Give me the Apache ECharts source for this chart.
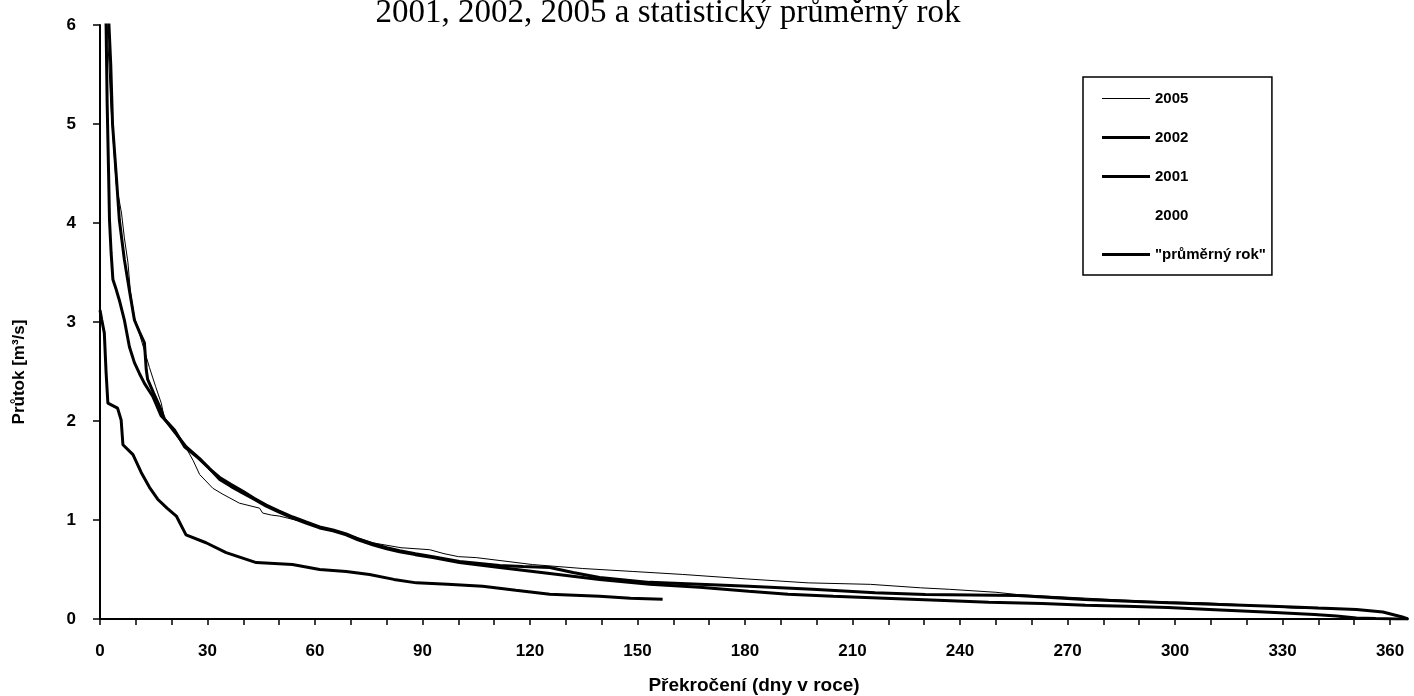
<!DOCTYPE html>
<html>
<head>
<meta charset="utf-8">
<script src="https://cdn.jsdelivr.net/npm/echarts@6/dist/echarts.min.js"></script>
<style>
html,body{margin:0;padding:0;background:#fff;}
#chart{width:1414px;height:696px;}
</style>
</head>
<body>
<div id="chart"></div>
<script>
// ---- data (days of exceedance, discharge m3/s) ----
const titleText = '2001, 2002, 2005 a statistický průměrný rok';
const xName = 'Překročení (dny v roce)';
const yName = 'Průtok [m³/s]';

const xTickValues = [0,10,20,30,40,50,60,70,80,90,100,110,120,130,140,150,160,170,180,190,200,210,220,230,240,250,260,270,280,290,300,310,320,330,340,350,360];
const xLabelValues = [0,30,60,90,120,150,180,210,240,270,300,330,360];

const days2005 = [0, 2.0, 3.0, 4.5, 6.0, 6.8, 7.8, 8.5, 9.6, 11, 12.5, 13.8, 15.5, 17.1, 18, 21, 24, 26, 27.8, 31.5, 34.3, 38.9, 44.5, 45.4, 47.8, 50, 55.7, 61, 68, 76, 84, 92, 96, 100, 105, 120.7, 134.7, 148.7, 162.6, 180.3, 197.6, 215, 229, 237, 250, 256, 280.5, 292, 308.5, 318, 333, 350.6, 358, 363, 365];
const q2005 = [7.0, 6.0, 5.2, 4.4, 4.1, 3.85, 3.6, 3.3, 3.05, 2.88, 2.7, 2.54, 2.35, 2.18, 2.02, 1.9, 1.73, 1.6, 1.46, 1.32, 1.26, 1.17, 1.12, 1.07, 1.05, 1.04, 0.99, 0.93, 0.87, 0.77, 0.72, 0.70, 0.66, 0.63, 0.62, 0.55, 0.51, 0.48, 0.45, 0.405, 0.365, 0.35, 0.315, 0.30, 0.27, 0.247, 0.20, 0.18, 0.163, 0.146, 0.11, 0.096, 0.07, 0.03, 0.0];

const days2002 = [0, 2.5, 3.0, 3.5, 4.5, 5.4, 6.8, 8.2, 9.6, 11, 12.4, 12.9, 13.3, 15, 16.6, 18, 21, 24, 27.8, 30.5, 33.4, 36.5, 39.9, 43, 46.4, 50, 53.8, 57.5, 61.3, 65, 68.7, 72, 76.1, 80, 83.6, 88, 92.9, 100.3, 111.5, 118, 125.5, 132, 139.4, 153.4, 167.3, 181, 198.8, 216.3, 230.3, 256, 274.7, 298, 327.2, 340, 350.6, 358, 363.4, 365];
const q2002 = [7.5, 6.0, 5.6, 5.0, 4.5, 4.03, 3.63, 3.32, 3.02, 2.9, 2.79, 2.52, 2.42, 2.28, 2.15, 2.02, 1.88, 1.74, 1.62, 1.52, 1.43, 1.36, 1.29, 1.22, 1.15, 1.09, 1.03, 0.98, 0.93, 0.90, 0.86, 0.81, 0.76, 0.72, 0.69, 0.66, 0.63, 0.58, 0.54, 0.53, 0.52, 0.47, 0.42, 0.37, 0.35, 0.33, 0.30, 0.264, 0.247, 0.237, 0.197, 0.163, 0.13, 0.11, 0.096, 0.07, 0.02, 0.0];

const days2001 = [0, 1.0, 1.7, 2.0, 2.4, 2.65, 3.1, 3.6, 4.5, 5.4, 6.8, 8.2, 9.6, 11, 12.4, 14.7, 17.1, 19, 20.8, 23.6, 27.3, 30, 33.4, 36.5, 39.9, 43, 46.4, 50, 53.8, 57.5, 61.3, 65, 68.7, 72, 76.1, 80, 83.6, 88, 92.9, 100.3, 111.5, 125.5, 139.4, 153.4, 167.3, 181, 192, 204.6, 219, 233.8, 248, 263, 275, 286.4, 298, 309.6, 325, 338.9, 345, 350.6, 356, 362, 365];
const q2001 = [7.0, 6.4, 6.0, 5.2, 4.5, 4.03, 3.70, 3.43, 3.33, 3.22, 3.02, 2.75, 2.59, 2.48, 2.38, 2.25, 2.05, 1.98, 1.91, 1.74, 1.63, 1.54, 1.41, 1.34, 1.27, 1.21, 1.14, 1.08, 1.02, 0.97, 0.92, 0.89, 0.85, 0.80, 0.75, 0.71, 0.68, 0.65, 0.62, 0.57, 0.52, 0.46, 0.40, 0.35, 0.32, 0.28, 0.25, 0.23, 0.21, 0.19, 0.17, 0.156, 0.14, 0.13, 0.115, 0.096, 0.07, 0.045, 0.03, 0.01, 0.005, 0.0, 0.0];

const days2000 = [];
const q2000 = [];

const daysAvg = [0, 0.5, 1.2, 1.7, 2.2, 4.9, 5.9, 6.4, 9.2, 11.5, 13.8, 16.1, 18.7, 21.3, 24, 29.6, 35.2, 43.6, 53.7, 61.3, 68.7, 75.2, 82, 88.3, 97, 106.8, 116, 125.5, 139.4, 148, 157];
const qAvg = [3.12, 3.02, 2.89, 2.49, 2.18, 2.13, 2.01, 1.76, 1.66, 1.48, 1.33, 1.21, 1.12, 1.04, 0.85, 0.77, 0.67, 0.57, 0.55, 0.50, 0.48, 0.45, 0.40, 0.365, 0.35, 0.33, 0.29, 0.25, 0.23, 0.21, 0.20];

const seriesNames = ['2005', '2002', '2001', '2000', '"průměrný rok"'];

function pairs(d, q) { return d.map((x, i) => [x, q[i]]); }

const FONT = "'Liberation Sans', Arial, sans-serif";
const THIN_ICON = 'path://M0,0H48V1H0Z';
const THICK_ICON = 'path://M0,0H48V3H0Z';

const chart = echarts.init(document.getElementById('chart'), null, {renderer: 'canvas'});
const mk = (name, d, q, width, color) => ({
  name: name, type: 'line', data: pairs(d, q), symbol: 'none', showSymbol: false,
  lineStyle: {color: color, width: width}, itemStyle: {color: color},
  clip: true, animation: false, z: 2
});

chart.setOption({
  animation: false,
  backgroundColor: '#fff',
  title: {
    text: titleText, left: 668, top: -3, textAlign: 'center', padding: 0,
    textStyle: {fontFamily: "'Liberation Serif', 'Times New Roman', serif", fontSize: 33, fontWeight: 'normal', color: '#000'}
  },
  grid: {left: 100, right: 6, top: 25, bottom: 77, containLabel: false, outerBoundsMode: 'none'},
  legend: {
    orient: 'vertical', left: 1083, top: 77,
    data: [
      {name: seriesNames[0], icon: THIN_ICON},
      {name: seriesNames[1], icon: THICK_ICON},
      {name: seriesNames[2], icon: THICK_ICON},
      {name: seriesNames[3], icon: THICK_ICON},
      {name: seriesNames[4], icon: THICK_ICON}
    ],
    itemWidth: 48, itemHeight: 14, itemGap: 24,
    padding: [14, 6, 13, 19],
    borderColor: '#000', borderWidth: 1.5, backgroundColor: '#fff',
    textStyle: {fontFamily: FONT, fontWeight: 'bold', fontSize: 15, color: '#000'},
    selectedMode: false
  },
  xAxis: {
    type: 'value', min: 0, max: 365,
    name: xName, nameLocation: 'middle', nameGap: 57,
    nameTextStyle: {fontFamily: FONT, fontWeight: 'bold', fontSize: 19, color: '#000'},
    axisLine: {show: true, onZero: false, lineStyle: {color: '#000', width: 2}},
    axisTick: {show: true, length: 6, customValues: xTickValues, lineStyle: {color: '#000', width: 1.5}},
    axisLabel: {customValues: xLabelValues, margin: 24, fontFamily: FONT, fontWeight: 'bold', fontSize: 17, color: '#000'},
    splitLine: {show: false}
  },
  yAxis: {
    type: 'value', min: 0, max: 6, interval: 1,
    axisLine: {show: true, onZero: false, lineStyle: {color: '#000', width: 2}},
    axisTick: {show: true, length: 7, lineStyle: {color: '#000', width: 1.5}},
    axisLabel: {margin: 24, fontFamily: FONT, fontWeight: 'bold', fontSize: 17, color: '#000'},
    splitLine: {show: false}
  },
  graphic: [{
    type: 'text', x: 19, y: 372, rotation: Math.PI / 2,
    style: {text: yName, fontFamily: FONT, fontWeight: 'bold', fontSize: 17, fill: '#000', align: 'center', verticalAlign: 'middle'}
  }],
  series: [
    mk(seriesNames[0], days2005, q2005, 1, '#000'),
    mk(seriesNames[1], days2002, q2002, 3, '#000'),
    mk(seriesNames[2], days2001, q2001, 3, '#000'),
    mk(seriesNames[3], days2000, q2000, 3, '#fff'),
    mk(seriesNames[4], daysAvg, qAvg, 3, '#000')
  ]
});
</script>
</body>
</html>
